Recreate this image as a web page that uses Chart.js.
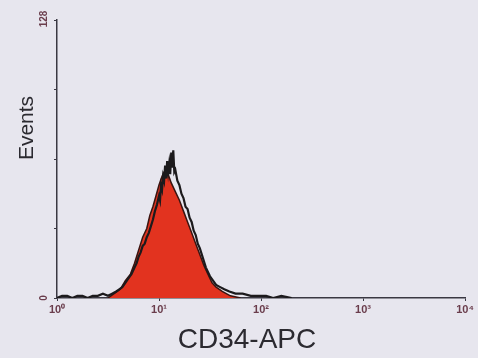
<!DOCTYPE html>
<html>
<head>
<meta charset="utf-8">
<script src="https://cdn.jsdelivr.net/npm/chart.js@4.4.0/dist/chart.umd.min.js"></script>
<style>
  html, body { margin: 0; padding: 0; background: #e7e6ee; }
  #histChart { display: block; }
</style>
</head>
<body>
<canvas id="histChart" width="478" height="358"></canvas>
<script>
// ---- data (x in decades: 0 = 10^0 ... 4 = 10^4) ----
var decadeTicks = [0, 1, 2, 3, 4];
var yTickLabels = [0, 128];

// sample histogram (black outline)
var sampleLog = [0.00, 0.05, 0.10, 0.15, 0.20, 0.25, 0.30, 0.35, 0.40, 0.45, 0.50, 0.54, 0.58, 0.61, 0.64, 0.67,
    0.70, 0.73, 0.76, 0.78, 0.80, 0.82, 0.84, 0.86, 0.88, 0.90, 0.92, 0.94, 0.96, 0.98, 1.00, 1.01, 1.02, 1.03,
    1.04, 1.05, 1.06, 1.07, 1.08, 1.09, 1.10, 1.11, 1.12, 1.13, 1.14, 1.15, 1.16, 1.18, 1.20, 1.22, 1.24, 1.26,
    1.28, 1.30, 1.32, 1.34, 1.36, 1.38, 1.40, 1.42, 1.44, 1.46, 1.48, 1.50, 1.53, 1.56, 1.60, 1.64, 1.69, 1.75,
    1.82, 1.90, 1.98, 2.05, 2.12, 2.20, 2.30];
var sampleCounts = [0, 1, 1, 0, 1, 1, 0, 1, 1, 2, 1, 2, 3, 4, 5, 7,
    9, 11, 14, 16, 19, 21, 24, 25, 28, 30, 33, 36, 40, 43, 47, 45, 52, 50,
    56, 54, 61, 55, 63, 58, 62, 57, 67, 60, 68, 58, 59, 54, 52, 48, 46, 42,
    41, 37, 35, 31, 29, 25, 23, 20, 17, 14, 12, 10, 8, 6, 5, 4, 3, 2,
    2, 1, 1, 1, 0, 1, 0];

// isotype control (red filled)
var controlLog = [0.50, 0.56, 0.62, 0.67, 0.72, 0.76, 0.80, 0.84, 0.88, 0.91, 0.94, 0.97, 1.00, 1.03, 1.05,
    1.07, 1.09, 1.12, 1.16, 1.20, 1.24, 1.28, 1.32, 1.36, 1.40, 1.44, 1.48, 1.52, 1.56, 1.62, 1.70, 1.80];
var controlCounts = [0, 2, 4, 8, 11, 16, 22, 28, 32, 38, 42, 47, 52, 56, 58,
    59, 57, 53, 49, 45, 40, 35, 30, 25, 20, 15, 11, 7, 5, 3, 1, 0];

var xTitle = 'CD34-APC';
var yTitle = 'Events';

var supDigits = ['\u2070', '\u00B9', '\u00B2', '\u00B3', '\u2074'];

function toPoints(xs, ys) {
    return xs.map(function (v, i) { return { x: v, y: ys[i] }; });
}

// background + axis labels that Chart.js can't rotate
var flowPlugin = {
    id: 'flowDecor',
    beforeDraw: function (chart) {
        var ctx = chart.ctx;
        ctx.save();
        ctx.fillStyle = '#e7e6ee';
        ctx.fillRect(0, 0, chart.width, chart.height);
        ctx.restore();
    },
    afterDraw: function (chart) {
        var ctx = chart.ctx;
        var yScale = chart.scales.y;
        ctx.save();
        ctx.fillStyle = '#6a3d4c';
        ctx.font = 'bold 10px "Liberation Sans", Arial, sans-serif';
        ctx.textAlign = 'center';
        ctx.textBaseline = 'middle';
        yTickLabels.forEach(function (v) {
            var py = yScale.getPixelForValue(v);
            ctx.save();
            ctx.translate(44, v === 0 ? py : py - 1);
            ctx.rotate(-Math.PI / 2);
            ctx.fillText(String(v), 0, 0);
            ctx.restore();
        });

        ctx.fillStyle = '#2b2a30';
        ctx.font = '21px "Liberation Sans", Arial, sans-serif';
        ctx.save();
        ctx.translate(27, 128);
        ctx.rotate(-Math.PI / 2);
        ctx.fillText(yTitle, 0, 0);
        ctx.restore();

        ctx.font = '28px "Liberation Sans", Arial, sans-serif';
        ctx.fillText(xTitle, 247, 340);
        ctx.restore();
    }
};

var histCanvas = document.getElementById('histChart').getContext('2d');

new Chart(histCanvas, {
    type: 'line',
    data: {
        datasets: [
            {
                label: 'Sample',
                data: toPoints(sampleLog, sampleCounts),
                borderColor: '#1c1a1c',
                borderWidth: 2.2,
                pointRadius: 0,
                fill: false,
                tension: 0
            },
            {
                label: 'Control',
                data: toPoints(controlLog, controlCounts),
                borderColor: '#3a1410',
                backgroundColor: '#e2331f',
                borderWidth: 1.5,
                pointRadius: 0,
                fill: 'origin',
                tension: 0
            }
        ]
    },
    options: {
        responsive: false,
        animation: false,
        layout: {
            autoPadding: false,
            padding: { top: 20, right: 13, left: 0, bottom: 0 }
        },
        plugins: {
            legend: { display: false },
            tooltip: { enabled: false }
        },
        scales: {
            x: {
                type: 'linear',
                min: 0,
                max: 4,
                afterBuildTicks: function (scale) {
                    scale.ticks = decadeTicks.map(function (v) { return { value: v }; });
                },
                afterFit: function (scale) { scale.height = 60; },
                border: { color: '#3a3842', width: 1.5 },
                grid: { drawOnChartArea: false, color: '#3a3842', tickLength: 3 },
                ticks: {
                    padding: 2,
                    maxRotation: 0,
                    color: '#6a3d4c',
                    font: { family: '"Liberation Sans", Arial, sans-serif', size: 11, weight: 'bold' },
                    callback: function (v) { return '10' + supDigits[v]; }
                }
            },
            y: {
                min: 0,
                max: 128,
                afterBuildTicks: function (scale) {
                    scale.ticks = [0, 32, 64, 96, 128].map(function (v) { return { value: v }; });
                },
                afterFit: function (scale) { scale.width = 57; },
                border: { color: '#3a3842', width: 1.5 },
                grid: { drawOnChartArea: false, color: '#3a3842', tickLength: 3 },
                ticks: { display: false }
            }
        }
    },
    plugins: [flowPlugin]
});
</script>
</body>
</html>
